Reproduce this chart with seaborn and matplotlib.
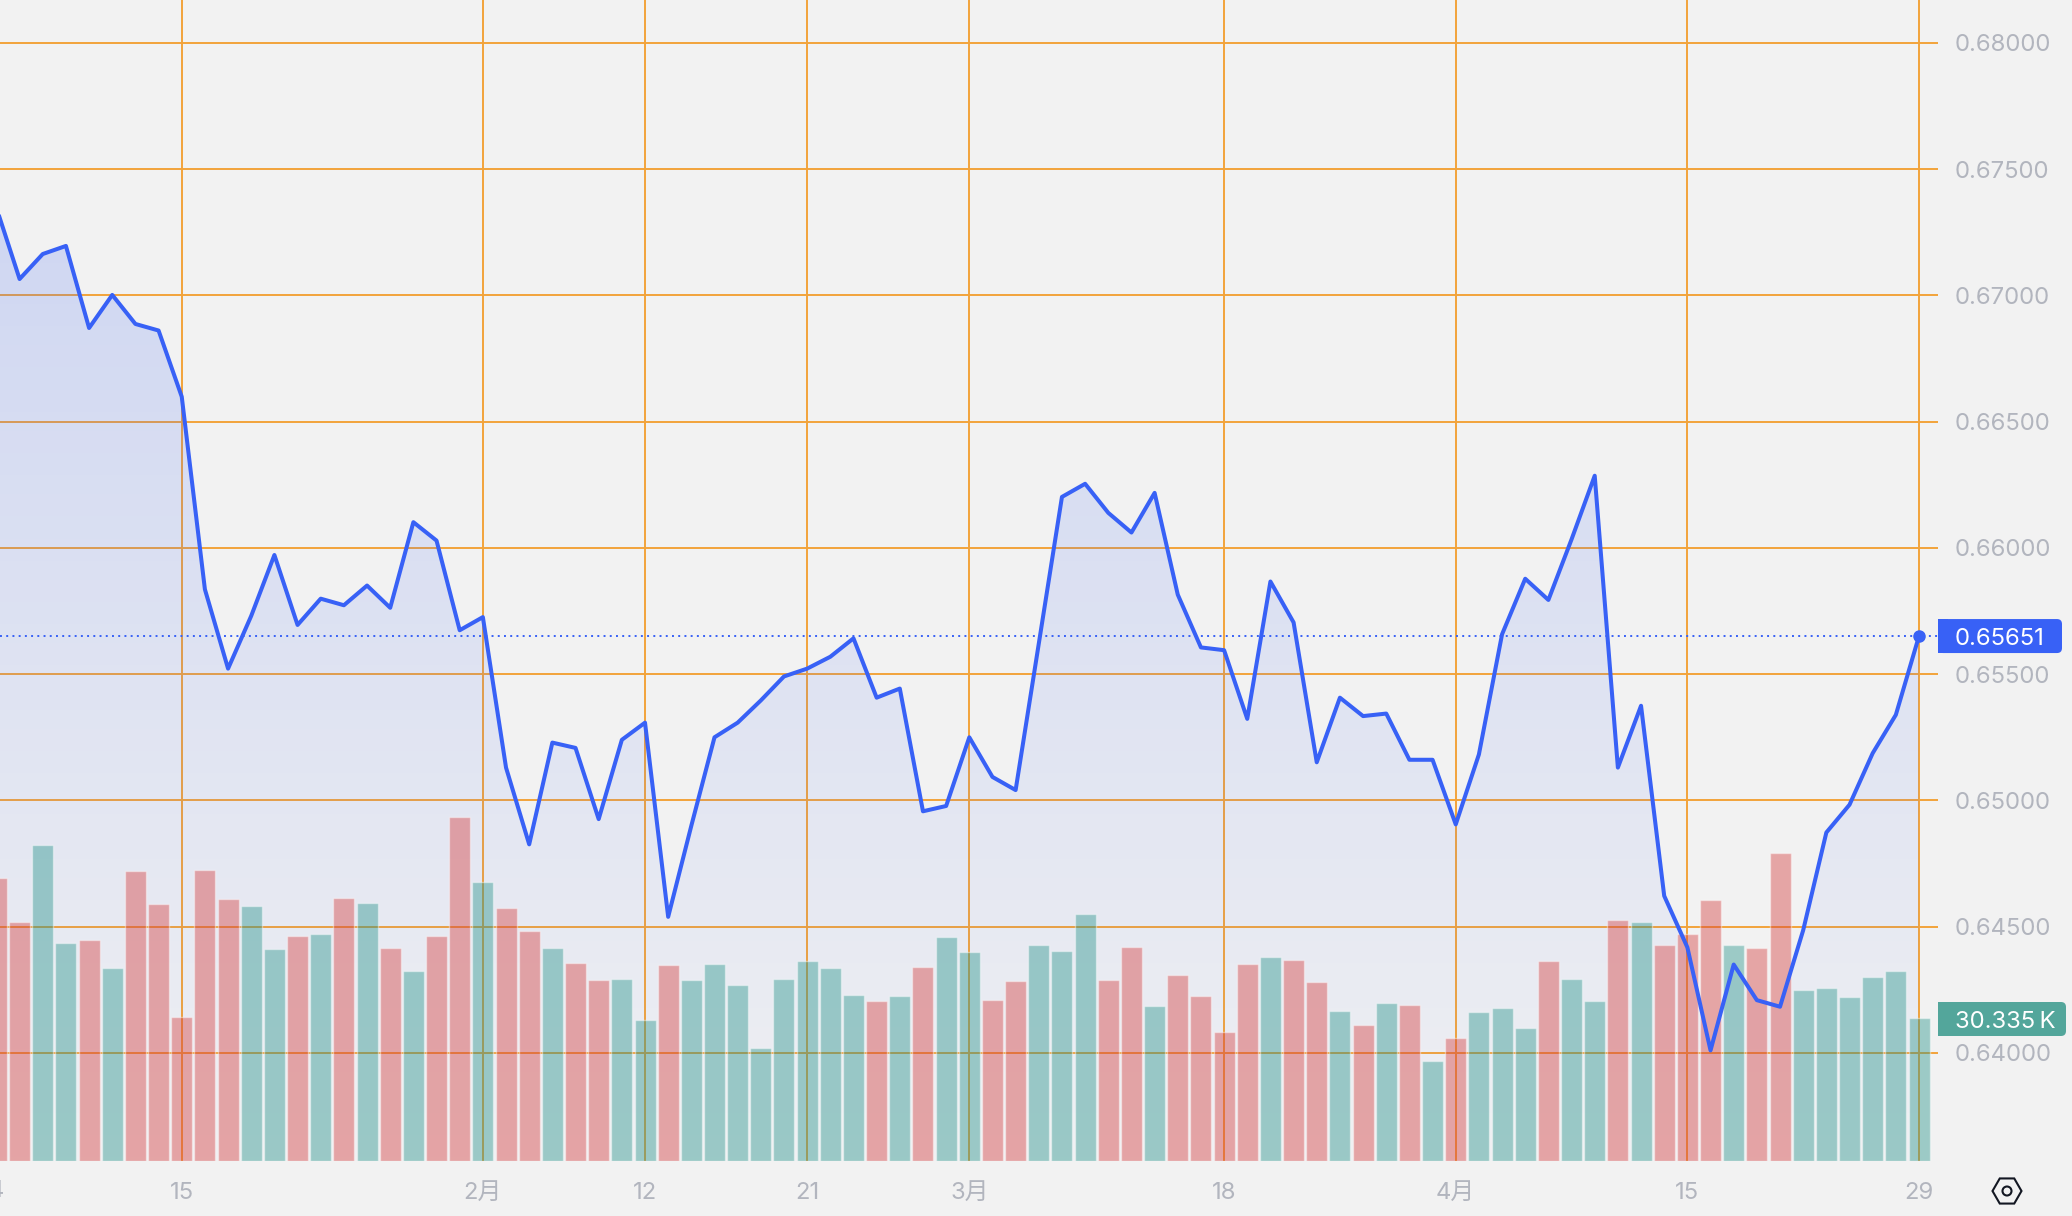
import matplotlib
matplotlib.use("Agg")
import matplotlib.pyplot as plt
import numpy as np
import seaborn as sns
from matplotlib.patches import Circle, FancyBboxPatch, RegularPolygon
from matplotlib.transforms import IdentityTransform

prices = [
    0.67347, 0.67065, 0.67164, 0.67196, 0.66871, 0.67002, 0.66887, 0.66861, 0.66599, 0.65836,
    0.65522, 0.65731, 0.65972, 0.65695, 0.65799, 0.65773, 0.65851, 0.65763, 0.66102, 0.66029,
    0.65674, 0.65726, 0.65130, 0.64826, 0.65229, 0.65208, 0.64926, 0.65240, 0.65308, 0.64539,
    0.64900, 0.65250, 0.65308, 0.65396, 0.65491, 0.65522, 0.65569, 0.65642, 0.65407, 0.65443,
    0.64957, 0.64978, 0.65250, 0.65093, 0.65041, 0.65621, 0.66202, 0.66254, 0.66139, 0.66061,
    0.66218, 0.65815, 0.65606, 0.65595, 0.65323, 0.65867, 0.65705, 0.65151, 0.65407, 0.65334,
    0.65344, 0.65161, 0.65161, 0.64905, 0.65182, 0.65658, 0.65878, 0.65794, 0.66034, 0.66286,
    0.65130, 0.65375, 0.64622, 0.64418, 0.64010, 0.64350, 0.64209, 0.64183, 0.64486, 0.64873,
    0.64983, 0.65187, 0.65339, 0.65651,
]
volumes = [
    60.2, 50.9, 67.3, 46.4, 47.0, 41.1, 61.7, 54.6, 30.6, 61.9,
    55.7, 54.3, 45.0, 47.8, 48.4, 56.0, 54.9, 45.3, 40.5, 47.8,
    73.2, 59.4, 53.8, 49.0, 45.3, 42.2, 38.5, 38.8, 30.1, 41.6,
    38.5, 41.9, 37.4, 24.1, 38.8, 42.5, 41.1, 35.4, 34.0, 35.1,
    41.3, 47.6, 44.4, 34.3, 38.2, 45.9, 44.7, 52.6, 38.5, 45.6,
    32.9, 39.6, 35.1, 27.5, 41.9, 43.3, 42.8, 38.0, 32.0, 28.9,
    33.7, 33.2, 21.3, 26.1, 31.7, 32.6, 28.4, 42.5, 38.8, 34.0,
    51.2, 50.9, 45.9, 48.4, 55.5, 45.9, 45.3, 65.6, 36.3, 36.8,
    34.9, 39.1, 40.5, 30.335,
]
# g = teal bar, d = red bar, ten per chunk
directions = list(
    "ddggdgdddd"
    "dggdgdgdgd"
    "dgddgddggd"
    "ggggggggdg"
    "dggddgggdd"
    "gddddgddgd"
    "gdgdgggdgg"
    "dgdddgddgg"
    "gggg"
)
x_tick_pos = [8, 21, 28, 35, 42, 53, 63, 73, 83]
x_tick_labels = ["15", "2月", "12", "21", "3月", "18", "4月", "15", "29"]
y_ticks = [0.64, 0.645, 0.65, 0.655, 0.66, 0.665, 0.67, 0.675, 0.68]

BG = "#f2f2f2"
GRID = "#f2a33a"
BLUE = "#3861f6"
TEAL = "#259389"
RED = "#d53b3b"
TICK = "#b2b5be"
FONT_SIZE = 17.2

sns.set_theme(style="white")
plt.rcParams["font.family"] = ["Inter", "Noto Sans CJK JP", "DejaVu Sans"]

W, H = 2072, 1216
fig = plt.figure(figsize=(W / 100, H / 100), dpi=100, facecolor=BG)
ax = fig.add_axes([0, 55 / H, 1938 / W, 1161 / H], facecolor=BG)
ax_vol = ax.twinx()
ax_line = ax.twinx()

idx = np.arange(len(prices))
y_lim = (0.63572, 0.68170)
x_lim = (0.154, 83.82)

# grid and area gradient sit at the back
ax.set_axisbelow(True)
ax.set_ylim(*y_lim)
ax.set_yticks(y_ticks)
ax.yaxis.tick_right()
ax.grid(True, color=GRID, linewidth=1.4)

grad = np.zeros((256, 1, 4))
grad[..., :3] = matplotlib.colors.to_rgb(BLUE)
grad[..., 3] = np.linspace(0.19, 0.015, 256)[:, None]
im = ax.imshow(
    grad,
    extent=(idx[0], idx[-1], y_lim[0], max(prices)),
    origin="upper",
    aspect="auto",
    zorder=1.5,
)
poly = ax.fill_between(idx, prices, y_lim[0], facecolor="none", edgecolor="none")
im.set_clip_path(poly.get_paths()[0], transform=ax.transData)

sns.barplot(
    x=idx,
    y=volumes,
    hue=directions,
    palette={"g": TEAL, "d": RED},
    dodge=False,
    width=0.907,
    alpha=0.42,
    saturation=1,
    legend=False,
    ax=ax_vol,
)
ax_vol.set_ylim(0, 247)
ax_vol.axis("off")

sns.lineplot(x=idx, y=prices, color=BLUE, linewidth=2.9, ax=ax_line)
ax_line.axhline(prices[-1], color=BLUE, linewidth=1.4, linestyle=(0, (1, 2.2)))
ax_line.plot(idx[-1], prices[-1], "o", color=BLUE, markersize=8, clip_on=False)
ax_line.set_ylim(*y_lim)
ax_line.axis("off")

ax.set_xticks(x_tick_pos)
ax.set_xticklabels(x_tick_labels)
ax.set_xlim(*x_lim)
ax.set_yticklabels([f"{t:.5f}" for t in y_ticks])
ax.tick_params(axis="x", length=0, pad=15, labelsize=FONT_SIZE, labelcolor=TICK)
ax.tick_params(axis="y", length=0, pad=12, labelsize=FONT_SIZE, labelcolor=TICK, right=False)
ax.set_xlabel("")
ax.set_ylabel("")
sns.despine(ax=ax, left=True, bottom=True, right=True, top=True)

# first date label falls just off the left edge, so its tick is out of view
ax.annotate("4", xy=(0, 0), xycoords=ax.get_xaxis_transform(), xytext=(0, -30),
            textcoords="offset pixels", ha="center", va="center",
            color=TICK, fontsize=FONT_SIZE, annotation_clip=False)


def tag(y_px, width, color, label):
    box = FancyBboxPatch(
        (1938, y_px - 17), width, 34,
        boxstyle="round,pad=0,rounding_size=5",
        facecolor=color, edgecolor="none", transform=IdentityTransform(),
    )
    fig.add_artist(box)
    fig.add_artist(plt.Rectangle((1938, y_px - 17), 10, 34, facecolor=color,
                                 edgecolor="none", transform=IdentityTransform()))
    fig.text(1955 / W, y_px / H, label, color="white", fontsize=FONT_SIZE, va="center_baseline")


price_px = ax.transData.transform((0, prices[-1]))[1]
tag(price_px, 124, BLUE, f"{prices[-1]:.5f}")
tag(H - 1019, 128, "#53a69b", "30.335\u2009K")

# settings icon in the corner
fig.add_artist(RegularPolygon((2007, H - 1191), 6, radius=14.5, orientation=np.pi / 6,
                              facecolor="none", edgecolor="#131722", linewidth=1.5,
                              transform=IdentityTransform()))
fig.add_artist(Circle((2007, H - 1191), 4.5, facecolor="none", edgecolor="#131722",
                      linewidth=1.5, transform=IdentityTransform()))

fig.savefig("out.png", dpi=100, facecolor=BG)
